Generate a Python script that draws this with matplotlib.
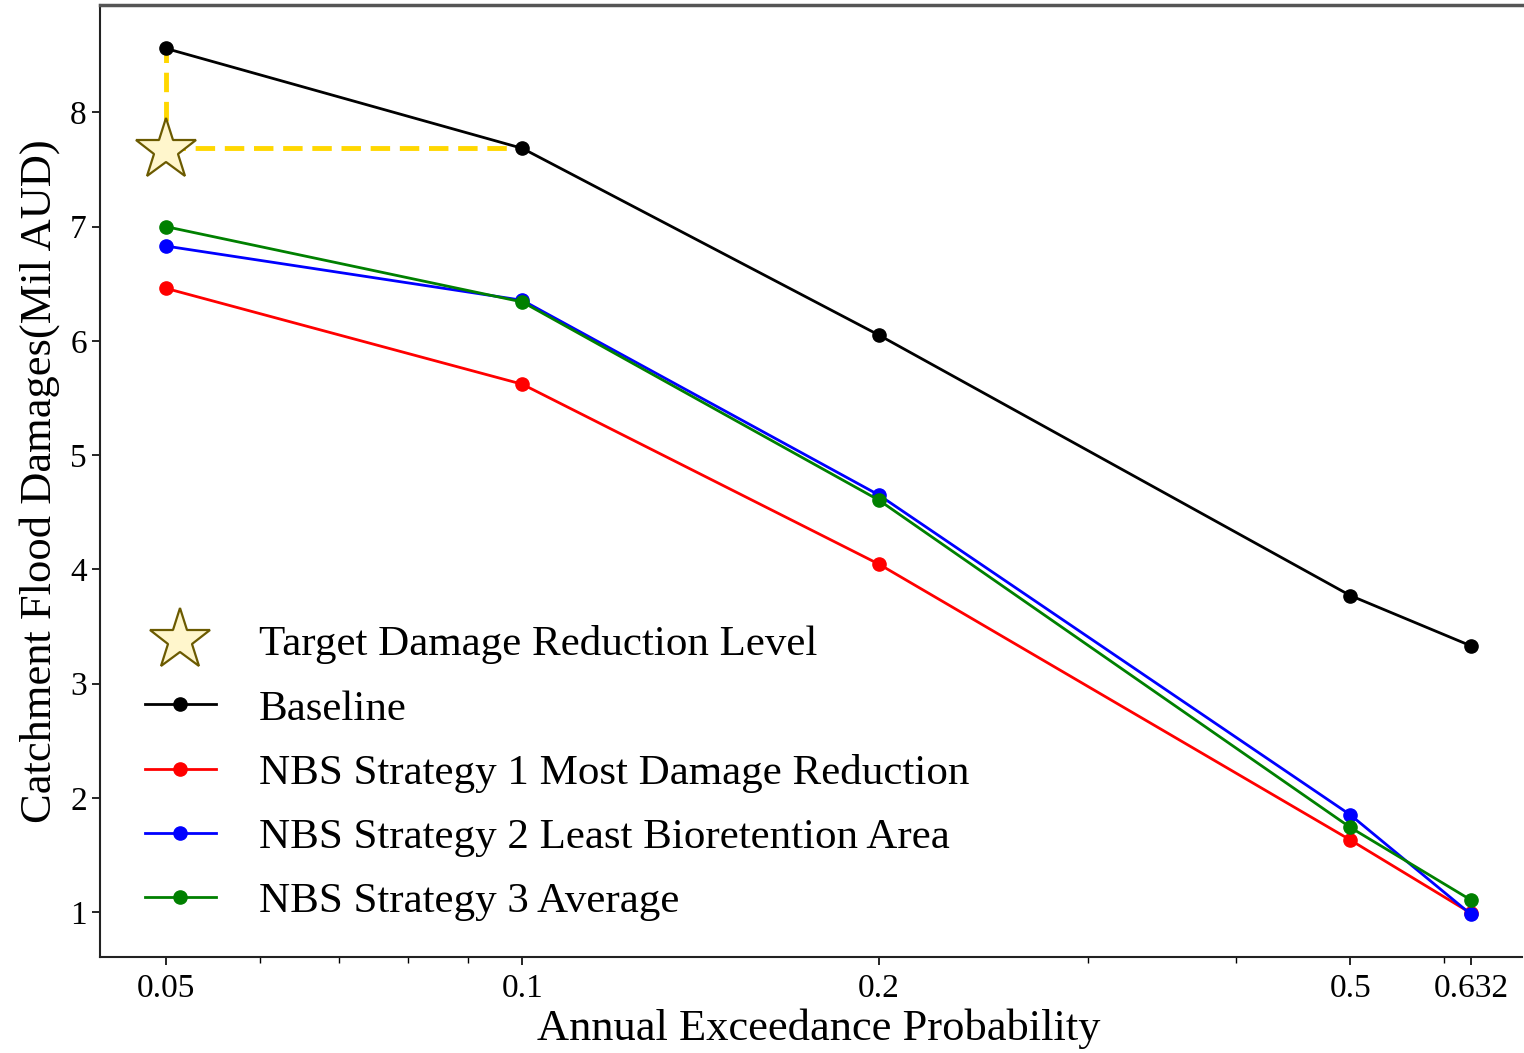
import matplotlib
matplotlib.use('Agg')
import matplotlib.pyplot as plt
from matplotlib.ticker import FixedLocator, NullFormatter

plt.rcParams['font.family'] = ['Liberation Serif', 'DejaVu Serif']

aep = [0.05, 0.1, 0.2, 0.5, 0.632]
aep_labels = ['0.05', '0.1', '0.2', '0.5', '0.632']
minor_aep = [0.06, 0.07, 0.08, 0.09, 0.3, 0.4, 0.6]

baseline = [8.56, 7.685, 6.05, 3.77, 3.33]
nbs1 = [6.46, 5.62, 4.045, 1.63, 0.99]
nbs2 = [6.83, 6.355, 4.65, 1.85, 0.98]
nbs3 = [7.0, 6.34, 4.605, 1.74, 1.105]

target_x = 0.05
target_y = 7.67

fig = plt.figure(figsize=(15.24, 10.53), dpi=100)
ax = fig.add_axes([100/1524, 96/1053, 1422/1524, 952/1053])

# target guide lines
ax.plot([target_x, target_x], [target_y, baseline[0]], color='#FFD700', lw=3.5,
        ls=(0, (4, 2)), zorder=2)
ax.plot([target_x, aep[1]], [baseline[1], baseline[1]], color='#FFD700', lw=3.5,
        ls=(0, (4, 2)), zorder=2)

ax.plot([target_x], [target_y], ls='none', marker='*', ms=46,
        mfc='#FFF6CC', mec='#6B5A00', mew=1.6, zorder=5,
        label='Target Damage Reduction Level')

lw = 2.0
ms = 9.5
ax.plot(aep, baseline, color='black', lw=lw, marker='o', ms=ms, label='Baseline', zorder=3)
ax.plot(aep, nbs1, color='red', lw=lw, marker='o', ms=ms,
        label='NBS Strategy 1 Most Damage Reduction', zorder=3)
ax.plot(aep, nbs2, color='blue', lw=lw, marker='o', ms=ms,
        label='NBS Strategy 2 Least Bioretention Area', zorder=3)
ax.plot(aep, nbs3, color='green', lw=lw, marker='o', ms=ms,
        label='NBS Strategy 3 Average', zorder=4)

ax.set_xscale('log')
ax.set_xlim(0.044, 0.698)
ax.set_ylim(0.606, 8.94)
ax.xaxis.set_major_locator(FixedLocator(aep))
ax.set_xticklabels(aep_labels)
ax.xaxis.set_minor_locator(FixedLocator(minor_aep))
ax.xaxis.set_minor_formatter(NullFormatter())
ax.set_yticks(range(1, 9))

ax.tick_params(axis='both', which='major', labelsize=24, length=6, width=1.2)
ax.tick_params(axis='x', which='major', pad=6)
ax.tick_params(axis='x', which='minor', length=4, width=1.0)

ax.spines['right'].set_visible(False)
for s in ['left', 'bottom']:
    ax.spines[s].set_linewidth(1.5)
    ax.spines[s].set_color('#222222')
ax.spines['top'].set_linewidth(2.5)
ax.spines['top'].set_color('#555555')

ax.set_xlabel('Annual Exceedance Probability', fontsize=32, labelpad=5)
ax.xaxis.set_label_coords(0.5056, -0.054)
ax.xaxis.label.set_va('top')
ax.set_ylabel('Catchment Flood Damages(Mil AUD)', fontsize=32, labelpad=7)

ax.legend(loc='lower left', bbox_to_anchor=(0.006, 0.0), frameon=False, fontsize=31,
          handlelength=1.65, handletextpad=1.0, labelspacing=0.58, borderaxespad=0.44,
          markerscale=1.0)

fig.savefig('out.png', dpi=100)
